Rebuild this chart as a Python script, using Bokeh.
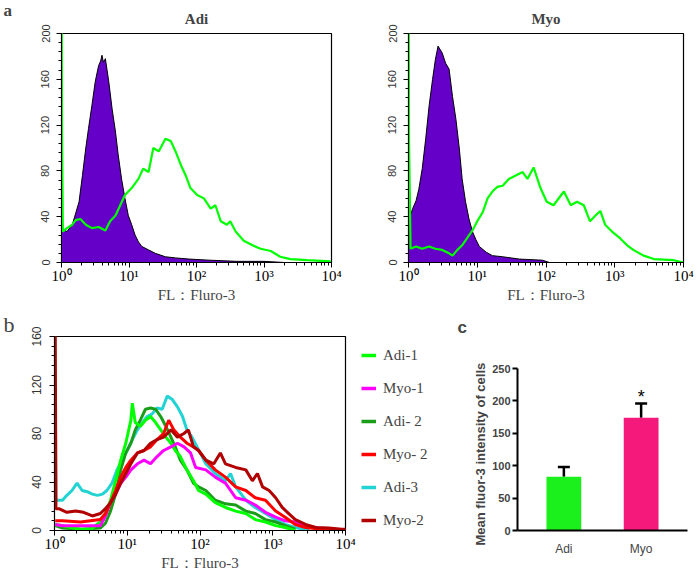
from bokeh.plotting import figure
from bokeh.layouts import column, row
from bokeh.models import (ColumnDataSource, Range1d, FactorRange, SingleIntervalTicker,
                          LogTicker, Legend, LegendItem, Whisker, TeeHead, Title)
from bokeh.core.properties import value
from bokeh.embed import file_html
from bokeh.resources import INLINE

SERIF = "Liberation Serif"
SANS = "Liberation Sans"

# ---------------- data ----------------
x_ticks = [1, 10, 100, 1000, 10000]
x_tick_labels = ["10⁰", "10¹", "10²", "10³", "10⁴"]

# panel a, Adi: isotype control (filled) and Fluo-3 (green)
adi_iso_log10fl = [0, 0.01, 0.08, 0.16, 0.21, 0.26, 0.31, 0.36, 0.40, 0.45, 0.50, 0.55, 0.58, 0.60, 0.62,
                   0.65, 0.70, 0.75, 0.80, 0.84, 0.89, 0.94, 0.99, 1.04, 1.09, 1.14, 1.19, 1.29, 1.39,
                   1.54, 1.69, 1.89, 2.2, 2.6, 3.0, 3.3]
adi_iso_count = [30, 30, 27, 33, 43, 53, 76, 100, 117, 137, 158, 172, 176, 181, 175,
                 178, 158, 134, 114, 94, 73, 56, 41, 33, 24, 18, 14, 11, 8,
                 5, 4, 3, 2, 1, 1, 0]
adi_fluo_log10fl = [0.003, 0.008, 0.02, 0.08, 0.16, 0.21, 0.28, 0.36, 0.45, 0.55, 0.65, 0.72, 0.80, 0.87,
                    0.94, 1.04, 1.14, 1.21, 1.29, 1.36, 1.44, 1.54, 1.62, 1.69, 1.77, 1.84, 1.91,
                    2.01, 2.11, 2.21, 2.28, 2.36, 2.45, 2.50, 2.58, 2.70, 2.83, 2.95, 3.10, 3.24,
                    3.39, 3.64, 3.99]
adi_fluo_count = [210, 112, 27, 30, 33, 37, 38, 33, 30, 31, 28, 36, 41, 50,
                  59, 65, 73, 82, 79, 100, 97, 108, 106, 97, 85, 76, 65,
                  59, 56, 47, 50, 36, 33, 36, 27, 19, 15, 12, 10, 5,
                  3, 2, 1]

# panel a, Myo
myo_iso_log10fl = [0, 0.02, 0.06, 0.11, 0.15, 0.20, 0.25, 0.30, 0.35, 0.39, 0.43, 0.49, 0.54, 0.59,
                   0.64, 0.69, 0.74, 0.78, 0.83, 0.88, 0.93, 0.98, 1.03, 1.13, 1.22, 1.37, 1.61,
                   1.95, 2.05]
myo_iso_count = [10, 40, 47, 54, 64, 82, 108, 137, 160, 177, 189, 183, 174, 169,
                 145, 125, 99, 73, 53, 38, 27, 20, 14, 9, 6, 5, 3,
                 2, 0]
myo_fluo_log10fl = [0.003, 0.008, 0.03, 0.11, 0.20, 0.30, 0.39, 0.49, 0.59, 0.64, 0.71, 0.78, 0.86, 0.93,
                    1.00, 1.08, 1.15, 1.22, 1.29, 1.37, 1.46, 1.56, 1.66, 1.73, 1.82, 1.92, 2.01,
                    2.11, 2.26, 2.36, 2.45, 2.55, 2.64, 2.72, 2.79, 2.86, 2.96, 3.08, 3.18, 3.27,
                    3.42, 3.57, 3.86, 4.0]
myo_fluo_count = [210, 106, 12, 14, 12, 14, 12, 11, 8, 6, 11, 15, 22, 28,
                  36, 44, 56, 62, 66, 67, 73, 76, 79, 73, 83, 65, 53,
                  50, 62, 50, 53, 50, 36, 41, 45, 33, 27, 21, 15, 11,
                  6, 3, 2, 0]

# panel b: overlay of six samples
b_labels = ["Adi-1", "Myo-1", "Adi- 2", "Myo- 2", "Adi-3", "Myo-2"]
b_adi1_log10fl = [0.01, 0.11, 0.22, 0.36, 0.50, 0.63, 0.70, 0.77, 0.84, 0.91, 0.98, 1.05, 1.07, 1.11,
                  1.18, 1.25, 1.32, 1.39, 1.46, 1.53, 1.60, 1.66, 1.73, 1.82, 1.91, 1.98, 2.08,
                  2.21, 2.35, 2.49, 2.63, 2.76, 2.90, 3.04, 3.17, 3.31]
b_adi1_count = [5, 4, 2.5, 1, 1, 7, 14, 25, 41, 58, 72, 91, 105, 89,
                86, 91, 94, 89, 83, 77, 72, 66, 61, 50, 41, 33, 30,
                23, 19, 16, 14, 9, 7, 4, 2.5, 0]
b_myo1_log10fl = [0.01, 0.11, 0.36, 0.63, 0.70, 0.77, 0.84, 0.91, 0.98, 1.05, 1.14, 1.23, 1.32, 1.41,
                  1.50, 1.60, 1.69, 1.78, 1.87, 1.94, 2.08, 2.21, 2.35, 2.49, 2.63, 2.76, 2.90,
                  3.04, 3.17, 3.31, 3.45, 3.63, 3.86, 4.0]
b_myo1_count = [5, 4, 4, 4, 12, 23, 30, 39, 44, 50, 55, 58, 55, 61,
                66, 69, 72, 69, 64, 52, 50, 44, 39, 27, 25, 21, 15,
                11, 8, 7, 4, 2, 1, 0]
b_adi2_log10fl = [0.01, 0.11, 0.36, 0.63, 0.70, 0.77, 0.84, 0.91, 0.98, 1.05, 1.11, 1.18, 1.25, 1.32,
                  1.39, 1.46, 1.53, 1.60, 1.66, 1.73, 1.82, 1.91, 1.98, 2.08, 2.21, 2.35, 2.49,
                  2.63, 2.76, 2.90, 3.04, 3.17, 3.31]
b_adi2_count = [4, 2, 1, 2, 6, 16, 30, 50, 64, 72, 83, 91, 100, 101,
                100, 94, 86, 77, 69, 58, 50, 39, 36, 33, 25, 22, 21,
                16, 14, 9, 7, 4, 1]
b_myo2_log10fl = [0.01, 0.11, 0.36, 0.63, 0.70, 0.77, 0.84, 0.91, 0.98, 1.05, 1.14, 1.23, 1.32, 1.41,
                  1.50, 1.57, 1.64, 1.73, 1.82, 1.91, 1.98, 2.08, 2.21, 2.35, 2.49, 2.63, 2.76,
                  2.90, 3.04, 3.17, 3.31, 3.45, 3.68, 4.0]
b_myo2_count = [8, 8, 7, 9, 14, 23, 33, 44, 52, 58, 64, 66, 69, 75,
                80, 91, 83, 77, 72, 69, 66, 58, 50, 44, 36, 33, 27,
                25, 16, 11, 5, 2.5, 1, 0]
b_adi3_log10fl = [0.01, 0.02, 0.11, 0.17, 0.24, 0.31, 0.38, 0.45, 0.52, 0.59, 0.66, 0.72, 0.79, 0.86,
                  0.93, 1.00, 1.07, 1.14, 1.21, 1.27, 1.34, 1.41, 1.48, 1.55, 1.62, 1.69, 1.76,
                  1.82, 1.89, 1.96, 2.08, 2.21, 2.35, 2.42, 2.49, 2.63, 2.76, 2.90, 3.04, 3.17,
                  3.31, 3.50]
b_adi3_count = [111, 25, 25, 29, 33, 39, 33, 32, 30, 29, 30, 33, 39, 50,
                58, 66, 75, 83, 89, 94, 96, 101, 100, 111, 108, 102, 94,
                83, 77, 69, 55, 47, 41, 47, 36, 25, 19, 14, 9, 5,
                2.5, 0]
b_myo2b_log10fl = [0.01, 0.02, 0.06, 0.17, 0.29, 0.40, 0.52, 0.63, 0.70, 0.77, 0.84, 0.91, 0.98, 1.05,
                   1.14, 1.23, 1.32, 1.41, 1.50, 1.60, 1.69, 1.78, 1.84, 1.91, 1.98, 2.08, 2.19,
                   2.28, 2.35, 2.49, 2.63, 2.72, 2.79, 2.86, 2.95, 3.04, 3.13, 3.22, 3.31, 3.45,
                   3.59, 3.77, 3.95, 4.0]
b_myo2b_count = [170, 18, 18, 15, 16, 15, 12, 14, 18, 23, 30, 39, 47, 55,
                 64, 66, 72, 75, 77, 83, 77, 80, 83, 69, 66, 58, 55,
                 64, 55, 52, 50, 41, 47, 36, 33, 27, 19, 14, 9, 5,
                 2.5, 2, 1, 1]

# panel c: mean fluo-3 intensity
groups = ["Adi", "Myo"]
mean_intensity = [83, 174]
sem_intensity = [15, 22]
significance = ["", "*"]

# ---------------- styles ----------------
PURPLE = "#6400C8"
GREEN = "#00FF00"
b_colors = ["#00FF00", "#FF00FF", "#1A9E1A", "#FF0000", "#22D3D3", "#B00000"]
bar_colors = ["#1CF01C", "#F5197B"]


def fl(logs):
    return [10 ** v for v in logs]


def style_hist(p, label_font_px, ylab_standoff):
    p.outline_line_color = "black"
    p.outline_line_width = 1.2
    p.xgrid.visible = False
    p.ygrid.visible = False
    ax = p.xaxis[0]
    ax.ticker = LogTicker(num_minor_ticks=10)
    ax.major_label_overrides = {t: s for t, s in zip(x_ticks, x_tick_labels)}
    ax.major_label_text_font = SERIF
    ax.major_label_text_font_size = "15px"
    ax.major_label_text_color = "black"
    ax.major_label_standoff = 0
    ax.major_tick_out = 5
    ax.major_tick_in = 0
    ax.minor_tick_out = 3
    ax.minor_tick_in = 0
    ax.axis_label = "FL：Fluro-3"
    ax.axis_label_text_font = SERIF
    ax.axis_label_text_font_size = "15px"
    ax.axis_label_text_font_style = "normal"
    ax.axis_label_standoff = 0
    ay = p.yaxis[0]
    ay.ticker = SingleIntervalTicker(interval=40, num_minor_ticks=5)
    ay.major_label_orientation = "vertical"
    ay.major_label_text_font = SANS
    ay.major_label_text_font_size = label_font_px
    ay.major_label_text_color = "#333333"
    ay.major_label_standoff = ylab_standoff
    ay.major_tick_out = 5
    ay.major_tick_in = 0
    ay.minor_tick_out = 3
    ay.minor_tick_in = 0


def panel_a(title, iso_log, iso_cnt, fluo_log, fluo_cnt, width, bl, br, letter=None):
    p = figure(width=width, height=305, x_axis_type="log", title=None,
               x_range=Range1d(1, 10000), y_range=Range1d(0, 200),
               min_border_left=bl, min_border_right=br, min_border_top=33, min_border_bottom=42,
               toolbar_location=None, output_backend="svg")
    p.add_layout(Title(text=title, align="center", vertical_align="top", standoff=10,
                       text_font=SERIF, text_font_size="15px", text_font_style="bold"), "above")
    if letter is not None:
        p.add_layout(Title(text=letter, align="left", offset=-(bl - 3), vertical_align="bottom",
                           standoff=-28.8, text_font=SERIF, text_font_size="17px",
                           text_font_style="bold"), "above")
    style_hist(p, "11px", 7)
    xs = fl(iso_log)
    p.varea(x=xs, y1=[0] * len(xs), y2=iso_cnt, fill_color=PURPLE)
    p.line(x=xs, y=iso_cnt, line_color="black", line_width=1)
    p.line(x=fl(fluo_log), y=fluo_cnt, line_color=GREEN, line_width=2.2)
    return p


pa1 = panel_a("Adi", adi_iso_log10fl, adi_iso_count, adi_fluo_log10fl, adi_fluo_count, 345, 61, 14,
              letter="a")
pa2 = panel_a("Myo", myo_iso_log10fl, myo_iso_count, myo_fluo_log10fl, myo_fluo_count, 352, 63, 14)

# panel b
pb = figure(width=357, height=275, x_axis_type="log",
            x_range=Range1d(1, 10000), y_range=Range1d(0, 160),
            min_border_left=54, min_border_right=12, min_border_top=31, min_border_bottom=50,
            toolbar_location=None, output_backend="svg")
style_hist(pb, "12px", 9)
pb.title.text = "b"
pb.title.align = "left"
pb.title.offset = -51
pb.title.standoff = 0
pb.title.text_font = SERIF
pb.title.text_font_size = "22px"
pb.title.text_font_style = "normal"
series_b = {4: (b_adi3_log10fl, b_adi3_count), 2: (b_adi2_log10fl, b_adi2_count),
            0: (b_adi1_log10fl, b_adi1_count), 1: (b_myo1_log10fl, b_myo1_count),
            3: (b_myo2_log10fl, b_myo2_count), 5: (b_myo2b_log10fl, b_myo2b_count)}
for idx, (lg, ct) in series_b.items():
    pb.line(x=fl(lg), y=ct, line_color=b_colors[idx], line_width=3)

# legend of panel b, in its own small canvas to the right of panel b
pleg = figure(width=91, height=275, x_axis_location=None, y_axis_location=None,
              min_border_left=0, min_border_right=0, min_border_top=31, min_border_bottom=50,
              toolbar_location=None, output_backend="svg")
pleg.outline_line_color = None
pleg.grid.visible = False
swatches = {}
for idx, (lg, ct) in series_b.items():
    swatches[idx] = pleg.line(x=fl(lg), y=ct, line_color=b_colors[idx], line_width=3.5,
                              visible=False)
legend = Legend(items=[LegendItem(label=b_labels[i], renderers=[swatches[i]]) for i in range(6)],
                location=(4, 0), border_line_color=None, background_fill_alpha=0,
                inactive_fill_alpha=0, click_policy="none",
                padding=2, spacing=13, glyph_width=15, glyph_height=20, label_height=20,
                label_standoff=7, margin=0, label_text_font=SERIF, label_text_font_size="15px")
pleg.add_layout(legend)

# panel c
src = ColumnDataSource(dict(group=groups, mean=mean_intensity,
                            upper=[m + s for m, s in zip(mean_intensity, sem_intensity)],
                            sig=significance, color=bar_colors))
pc = figure(width=249, height=275,
            x_range=FactorRange(factors=groups, range_padding=0.1, range_padding_units="absolute"),
            y_range=Range1d(0, 299.4),
            min_border_left=69, min_border_right=10, min_border_top=31, min_border_bottom=50,
            toolbar_location=None, output_backend="svg")
pc.outline_line_color = None
pc.xgrid.visible = False
pc.ygrid.visible = False
pc.title.text = "c"
pc.title.align = "left"
pc.title.offset = -60
pc.title.standoff = 0
pc.title.text_font = SANS
pc.title.text_font_size = "17px"
pc.title.text_font_style = "bold"
pc.vbar(x="group", top="mean", width=0.45, source=src, fill_color="color", line_color=None)
pc.add_layout(Whisker(base="group", upper="upper", lower="mean", source=src, line_width=2.5,
                      line_color="black", upper_head=TeeHead(size=12, line_width=2.5),
                      lower_head=None))
pc.text(x="group", y="upper", text="sig", source=src, text_font=value(SANS),
        text_font_size="18px", text_align="center", text_baseline="bottom", y_offset=4)
ay = pc.yaxis[0]
ay.bounds = (0, 250)
ay.ticker = SingleIntervalTicker(interval=50, num_minor_ticks=0)
ay.axis_line_width = 2
ay.major_tick_line_width = 2
ay.major_tick_out = 5
ay.major_tick_in = 0
ay.minor_tick_line_color = None
ay.major_label_text_font = SANS
ay.major_label_text_font_size = "11px"
ay.major_label_text_font_style = "bold"
ay.major_label_standoff = 2
pc.add_layout(Title(text="Mean  fluor-3 intensity of cells", align="left", offset=-15,
                    standoff=3, text_font=SANS, text_font_size="13px", text_font_style="bold"),
              "left")
ax = pc.xaxis[0]
ax.axis_line_width = 2
ax.major_tick_line_color = None
ax.major_tick_out = 0
ax.minor_tick_line_color = None
ax.major_label_text_font = SANS
ax.major_label_text_font_size = "12px"
ax.major_label_standoff = 11

layout = column(row(pa1, pa2), row(pb, pleg, pc))
open("out.html", "w").write(file_html(layout, INLINE))
